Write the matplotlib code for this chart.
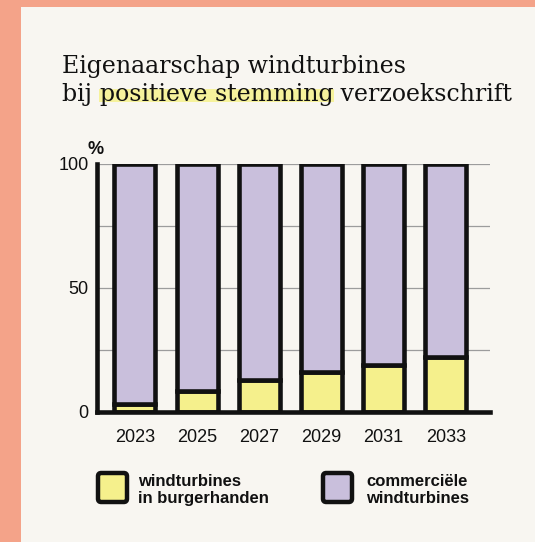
import numpy as np
import matplotlib
matplotlib.use("Agg")
from matplotlib import pyplot as plt
from matplotlib.patches import Rectangle, FancyBboxPatch

# data
years = ['2023', '2025', '2027', '2029', '2031', '2033']
citizen = [3.2, 8.5, 13.0, 16.0, 19.0, 22.0]
commercial = [100 - c for c in citizen]
yticks = [0, 50, 100]
grid_lines = [25, 50, 75, 100]
legend_labels = ['windturbines\nin burgerhanden', 'commerciële\nwindturbines']

# colours
bg = '#f8f6f1'
salmon = '#f4a389'
yellow = '#f5f08c'
lavender = '#c9bfdc'
ink = '#111111'
highlight = '#f6f29c'

W, H = 535, 542
fig = plt.figure(figsize=(W / 100, H / 100), dpi=100)
fig.patch.set_facecolor(salmon)

# cream paper on top of salmon frame
fig.add_artist(Rectangle((21 / W, 0), 1 - 21 / W, 1 - 7 / H, transform=fig.transFigure,
                         facecolor=bg, edgecolor='none', zorder=0))

def px(x, y):
    return x / W, 1 - y / H

# axes
ax = fig.add_axes([97 / W, 1 - 412 / H, (490 - 97) / W, (412 - 164) / H])
ax.set_facecolor('none')
x = np.arange(len(years))
bw = 0.66
ax.bar(x, citizen, width=bw, color=yellow, edgecolor=ink, linewidth=3.3, zorder=3)
ax.bar(x, commercial, bottom=citizen, width=bw, color=lavender, edgecolor=ink,
       linewidth=3.3, zorder=3)
for g in grid_lines:
    ax.axhline(g, color='#9c9c9c', linewidth=0.9, zorder=1)

ax.set_xlim(-0.61, 5.71)
ax.set_ylim(0, 100)
ax.set_xticks(x)
ax.set_xticklabels(years)
ax.set_yticks(yticks)
ax.set_yticklabels([str(t) for t in yticks])
ax.tick_params(length=0, labelsize=13, colors=ink)
ax.tick_params(axis='x', pad=12)
ax.tick_params(axis='y', pad=6)
for lab in ax.get_xticklabels() + ax.get_yticklabels():
    lab.set_family('Liberation Sans')
for s in ['top', 'right']:
    ax.spines[s].set_visible(False)
for s in ['left', 'bottom']:
    ax.spines[s].set_linewidth(3.3)
    ax.spines[s].set_color(ink)
    ax.spines[s].set_zorder(4)

fig.text(*px(96, 150), '%', ha='center', va='center', fontsize=13,
         fontweight='bold', family='Liberation Sans', color=ink)

# title with highlighted words
tfont = dict(family='DejaVu Serif', fontsize=17, color=ink)
fig.text(*px(62, 73), 'Eigenaarschap windturbines', ha='left', va='baseline', **tfont)
line2 = ['bij ', 'positieve stemming', ' verzoekschrift']
fig.canvas.draw()
r = fig.canvas.get_renderer()
xcur = 62
y2 = 101
for i, part in enumerate(line2):
    t = fig.text(*px(xcur, y2), part, ha='left', va='baseline', zorder=3, **tfont)
    # measure with a guard character so trailing spaces are kept
    probe = fig.text(0, 0, part + '|', **tfont)
    bar = fig.text(0, 0, '|', **tfont)
    wpart = probe.get_window_extent(r).width - bar.get_window_extent(r).width
    probe.remove()
    bar.remove()
    if i == 1:
        fig.add_artist(Rectangle(px(xcur - 1, y2 + 1), (wpart + 2) / W, 13 / H,
                                 transform=fig.transFigure, facecolor=highlight,
                                 edgecolor='none', zorder=2))
    xcur += wpart

# legend
colors = [yellow, lavender]
box_x = [97, 322]
text_x = [138, 366]
for c, bx, tx, lab in zip(colors, box_x, text_x, legend_labels):
    fig.add_artist(FancyBboxPatch(px(bx + 1, 502), 29 / W, 29 / H,
                                  boxstyle='round,pad=0,rounding_size=0.006',
                                  transform=fig.transFigure, facecolor=c,
                                  edgecolor=ink, linewidth=3.2, zorder=3))
    fig.text(*px(tx, 490), lab, ha='left', va='center', fontsize=12,
             fontweight='bold', family='Liberation Sans', color=ink,
             linespacing=1.2)

fig.savefig('out.png', dpi=100, facecolor=fig.get_facecolor())
